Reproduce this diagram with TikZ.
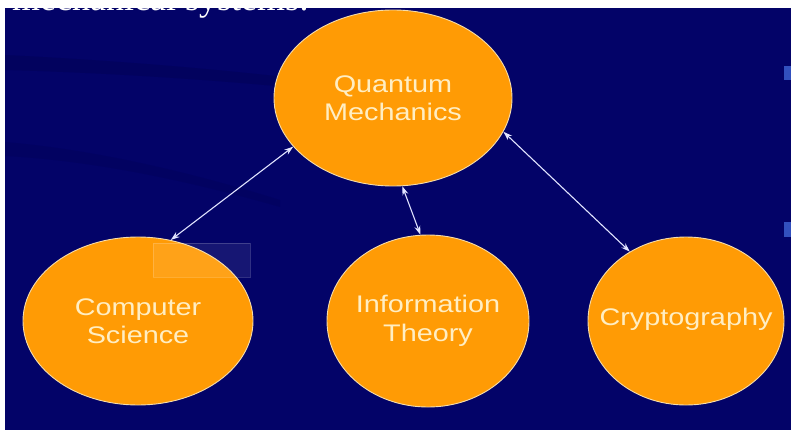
\documentclass[tikz,border=0pt]{standalone}
\usepackage{fontspec}
\setmainfont{Liberation Serif}
\newfontfamily\lab[FakeStretch=1.2]{Liberation Sans}
\usetikzlibrary{shapes.geometric,arrows.meta}
\definecolor{navy}{RGB}{3,3,104}
\definecolor{orng}{RGB}{255,155,5}
\definecolor{cream}{RGB}{255,238,195}
\definecolor{rimc}{RGB}{245,220,170}
\definecolor{arrowc}{RGB}{225,228,255}
\definecolor{bulletc}{RGB}{50,80,190}
\tikzset{
  bubble/.style={ellipse, fill=orng, draw=rimc, line width=0.9pt, inner sep=0pt},
  bubtext/.style={font=\lab\fontsize{24}{28.5}\selectfont, text=cream, align=center, inner sep=0pt},
  link/.style={{Stealth[length=9pt,width=6pt]}-{Stealth[length=9pt,width=6pt]}, draw=arrowc, line width=1.1pt}
}
\begin{document}
\begin{tikzpicture}[x=1pt,y=-1pt]
\useasboundingbox (0,0) rectangle (791,433);
\fill[white] (0,0) rectangle (791,433);
\fill[navy] (5,8) rectangle (791,430);
% faint darker streaks
\fill[black,opacity=0.09] (5,55) .. controls (150,62) and (300,76) .. (420,95) -- (420,102) .. controls (300,86) and (150,74) .. (5,70) -- cycle;
\fill[black,opacity=0.06] (5,142) .. controls (100,150) and (200,175) .. (280,200) -- (280,207) .. controls (200,184) and (100,161) .. (5,156) -- cycle;
% cut-off heading text
\node[anchor=base west, text=white, inner sep=0pt, font=\fontsize{36}{40}\selectfont] (head) at (12,11) {mechanical systems:};
\fill[white] (0,0) rectangle (791,8);
% small bullets at the right edge
\fill[bulletc] (784,66) rectangle (791,80);
\fill[bulletc] (784,222) rectangle (791,237);
% nodes
\node[bubble, minimum width=238pt, minimum height=176pt] (qm) at (393,98) {};
\node[bubble, minimum width=230pt, minimum height=168pt] (cs) at (138,321) {};
\node[bubble, minimum width=202pt, minimum height=172pt] (it) at (428,321) {};
\node[bubble, minimum width=196pt, minimum height=168pt] (cr) at (686,321) {};
\node[bubtext] (qmt) at (qm) {Quantum\\Mechanics};
\node[bubtext] (cst) at (cs) {Computer\\Science};
\node[bubtext] (itt) at (it) {Information\\Theory};
\node[bubtext] (crt) at ([yshift=2pt]cr.center) {Cryptography};
% faint artifact box
\draw[white, opacity=0.18, fill=white, fill opacity=0.08] (153,243) rectangle (250,277);
% connectors
\draw[link] (qm.206) -- (cs.68);
\draw[link] (qm.276) -- (it.95);
\draw[link] (qm.343) -- (cr.129);
\end{tikzpicture}
\end{document}
